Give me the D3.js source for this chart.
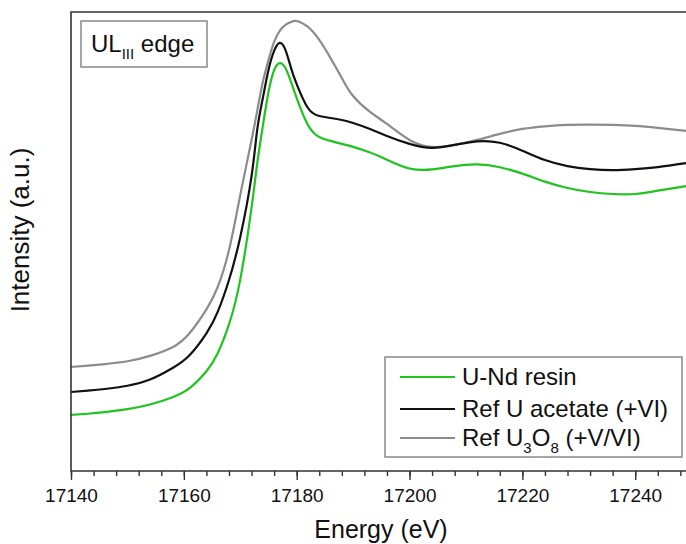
<!DOCTYPE html>
<html>
<head>
<meta charset="utf-8">
<script src="https://cdn.jsdelivr.net/npm/d3@7"></script>
<style>
  body { margin: 0; background: #fff; }
  svg text { font-family: "Liberation Sans", Arial, sans-serif; fill: #111; }
</style>
</head>
<body>
<div id="chart"></div>
<script>
// energy grid (eV) and intensities (a.u.)
var energy = [17140, 17143, 17146, 17150, 17154, 17158, 17161, 17164, 17166, 17168,
    17170, 17172, 17173, 17174, 17175, 17176, 17177, 17178, 17179, 17180,
    17182, 17184, 17186, 17188, 17190, 17193, 17196, 17200, 17204, 17208,
    17212, 17216, 17220, 17224, 17228, 17232, 17236, 17240, 17244, 17249];

var resin = [0.281, 0.287, 0.295, 0.310, 0.333, 0.370, 0.415, 0.500, 0.590, 0.735,
    0.960, 1.320, 1.540, 1.729, 1.899, 2.009, 2.044, 2.019, 1.949, 1.869,
    1.734, 1.674, 1.654, 1.639, 1.624, 1.596, 1.560, 1.516, 1.511, 1.528,
    1.536, 1.522, 1.490, 1.450, 1.418, 1.398, 1.388, 1.388, 1.405, 1.428];

var acetate = [0.396, 0.403, 0.411, 0.427, 0.458, 0.516, 0.580, 0.690, 0.797, 0.957,
    1.173, 1.478, 1.709, 1.869, 2.009, 2.105, 2.145, 2.110, 2.019, 1.939,
    1.819, 1.779, 1.769, 1.759, 1.744, 1.714, 1.679, 1.639, 1.619, 1.634,
    1.652, 1.645, 1.605, 1.558, 1.528, 1.513, 1.508, 1.513, 1.523, 1.543];

var u3o8 = [0.521, 0.528, 0.536, 0.550, 0.577, 0.620, 0.690, 0.810, 0.922, 1.107,
    1.383, 1.659, 1.804, 1.949, 2.059, 2.150, 2.205, 2.235, 2.250, 2.255,
    2.225, 2.160, 2.069, 1.969, 1.879, 1.799, 1.739, 1.659, 1.624, 1.634,
    1.659, 1.689, 1.714, 1.727, 1.734, 1.736, 1.734, 1.729, 1.719, 1.704];

var majorTicks = [17140, 17160, 17180, 17200, 17220, 17240];

var series = [
    { name: "U-Nd resin", values: resin, color: "#1fc41f" },
    { name: "Ref U acetate (+VI)", values: acetate, color: "#111111" },
    { name: "Ref U3O8 (+V/VI)", values: u3o8, color: "#8c8c8c" }
];

var width = 686, height = 544;
var plotLeft = 71, plotTop = 12, plotBottom = 471, plotRight = 686;

var svg = d3.select("#chart").append("svg")
    .attr("width", width).attr("height", height);

var x = d3.scaleLinear().domain([17140, 17249]).range([plotLeft, plotRight]);
var y = d3.scaleLinear().domain([0, 2.3]).range([plotBottom, plotTop]);

// curves
var line = d3.line()
    .x(function (d, i) { return x(energy[i]); })
    .y(function (d) { return y(d); })
    .curve(d3.curveNatural);

// draw gray first, then black, then green
[2, 1, 0].forEach(function (k) {
    svg.append("path")
        .attr("d", line(series[k].values))
        .attr("fill", "none")
        .attr("stroke", series[k].color)
        .attr("stroke-width", 2.2);
});

// frame (right side runs off the page)
svg.append("path")
    .attr("d", "M" + (plotRight + 5) + "," + plotTop + "H" + plotLeft + "V" + plotBottom + "H" + (plotRight + 5))
    .attr("fill", "none").attr("stroke", "#333").attr("stroke-width", 1.6);

// minor ticks every 4 eV
svg.append("g")
    .attr("transform", "translate(0," + plotBottom + ")")
    .call(d3.axisBottom(x).tickValues(d3.range(17140, 17250, 4)).tickSize(5).tickFormat(""))
    .call(function (g) {
        g.select(".domain").remove();
        g.selectAll("line").attr("stroke", "#333").attr("stroke-width", 1.4);
    });

// major ticks + labels
svg.append("g")
    .attr("transform", "translate(0," + plotBottom + ")")
    .call(d3.axisBottom(x).tickValues(majorTicks).tickSize(9).tickPadding(9).tickFormat(d3.format("d")))
    .call(function (g) {
        g.select(".domain").remove();
        g.selectAll("line").attr("stroke", "#333").attr("stroke-width", 1.4);
        g.selectAll("text").style("font-size", "19px")
            .style("font-family", "Liberation Sans, Arial, sans-serif").attr("fill", "#111");
    });

// axis titles
svg.append("text")
    .attr("x", 381).attr("y", 538)
    .attr("text-anchor", "middle")
    .style("font-size", "25px")
    .text("Energy (eV)");

svg.append("text")
    .attr("transform", "translate(29,230) rotate(-90)")
    .attr("text-anchor", "middle")
    .style("font-size", "26px")
    .text("Intensity (a.u.)");

// edge label box
svg.append("rect")
    .attr("x", 81).attr("y", 21).attr("width", 126).attr("height", 46)
    .attr("fill", "#fff").attr("stroke", "#777").attr("stroke-width", 1.3);
var edge = svg.append("text").attr("x", 91).attr("y", 52).style("font-size", "24px");
edge.append("tspan").text("UL");
edge.append("tspan").attr("dy", 7).style("font-size", "15px").text("III");
edge.append("tspan").attr("dy", -7).text(" edge");

// legend
svg.append("rect")
    .attr("x", 385).attr("y", 357).attr("width", 297).attr("height", 100)
    .attr("fill", "#fff").attr("stroke", "#777").attr("stroke-width", 1.3);

var rowY = [377, 409, 438];
series.forEach(function (s, i) {
    svg.append("line")
        .attr("x1", 400).attr("x2", 455)
        .attr("y1", rowY[i]).attr("y2", rowY[i])
        .attr("stroke", s.color).attr("stroke-width", 2.2);
    var t = svg.append("text")
        .attr("x", 462).attr("y", rowY[i] + 8)
        .style("font-size", "24px");
    if (i === 2) {
        t.append("tspan").text("Ref U");
        t.append("tspan").attr("dy", 7).style("font-size", "15px").text("3");
        t.append("tspan").attr("dy", -7).text("O");
        t.append("tspan").attr("dy", 7).style("font-size", "15px").text("8");
        t.append("tspan").attr("dy", -7).text(" (+V/VI)");
    } else {
        t.text(s.name);
    }
});
</script>
</body>
</html>
